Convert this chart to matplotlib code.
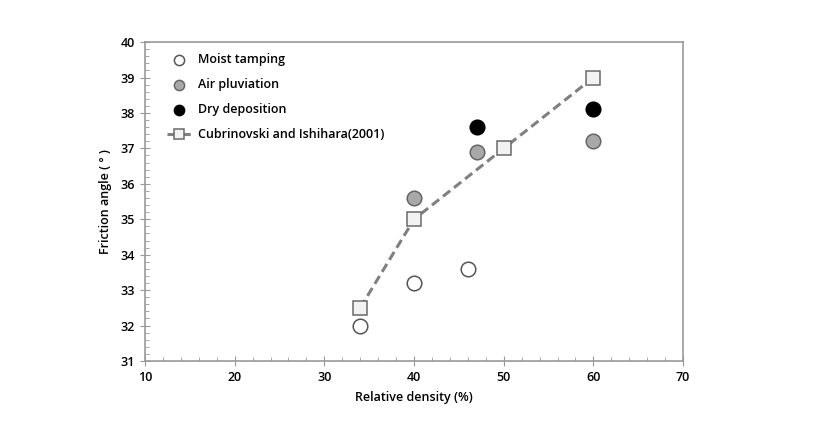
import matplotlib
matplotlib.use('Agg')
import matplotlib.pyplot as plt
from matplotlib.ticker import MultipleLocator

# data
moist_x = [34, 40, 46]
moist_y = [32.0, 33.2, 33.6]
air_x = [40, 47, 60]
air_y = [35.6, 36.9, 37.2]
dry_x = [47, 60]
dry_y = [37.6, 38.1]
cub_x = [34, 40, 50, 60]
cub_y = [32.5, 35.0, 37.0, 39.0]

plt.rcParams['font.family'] = ['Open Sans', 'DejaVu Sans']

fig = plt.figure(figsize=(8.26, 4.21), dpi=100)
ax = fig.add_axes([0.1755, 0.1425, 0.6515, 0.7575])

ax.plot(cub_x, cub_y, color='#808080', ls='--', lw=2.2, dashes=(3, 1.6),
        marker='s', ms=10, mfc='#f2f2f2', mec='#6a6a6a', mew=1.1,
        label='Cubrinovski and Ishihara(2001)', zorder=3)
ax.scatter(moist_x, moist_y, s=110, facecolor='white', edgecolor='#555555',
           lw=1.1, label='Moist tamping', zorder=4)
ax.scatter(air_x, air_y, s=110, facecolor='#a8a8a8', edgecolor='#666666',
           lw=1.1, label='Air pluviation', zorder=4)
ax.scatter(dry_x, dry_y, s=110, facecolor='black', edgecolor='black',
           lw=1.1, label='Dry deposition', zorder=4)

ax.set_xlim(10, 70)
ax.set_ylim(31, 40)
ax.xaxis.set_major_locator(MultipleLocator(10))
ax.xaxis.set_minor_locator(MultipleLocator(2))
ax.yaxis.set_major_locator(MultipleLocator(1))
ax.yaxis.set_minor_locator(MultipleLocator(0.2))

for s in ax.spines.values():
    s.set_color('#999999')
    s.set_linewidth(1.2)

ax.tick_params(which='major', direction='inout', length=7, color='#999999',
               labelsize=9, pad=4)
ax.tick_params(which='minor', direction='in', length=3, color='#999999')
for lab in ax.get_xticklabels() + ax.get_yticklabels():
    lab.set_fontweight('semibold')

ax.set_xlabel('Relative density (%)', fontsize=9, fontweight='semibold', labelpad=5)
ax.set_ylabel('Friction angle ( ° )', fontsize=9, fontweight='semibold', labelpad=6)

h, l = ax.get_legend_handles_labels()
order = [1, 2, 3, 0]
leg = ax.legend([h[i] for i in order], [l[i] for i in order], loc='upper left',
                frameon=False, fontsize=9, labelspacing=0.95, handlelength=2.0,
                handletextpad=0.5, markerscale=0.7, bbox_to_anchor=(0.02, 1.0))
for t in leg.get_texts():
    t.set_fontweight('semibold')

fig.savefig('out.png', dpi=100)
